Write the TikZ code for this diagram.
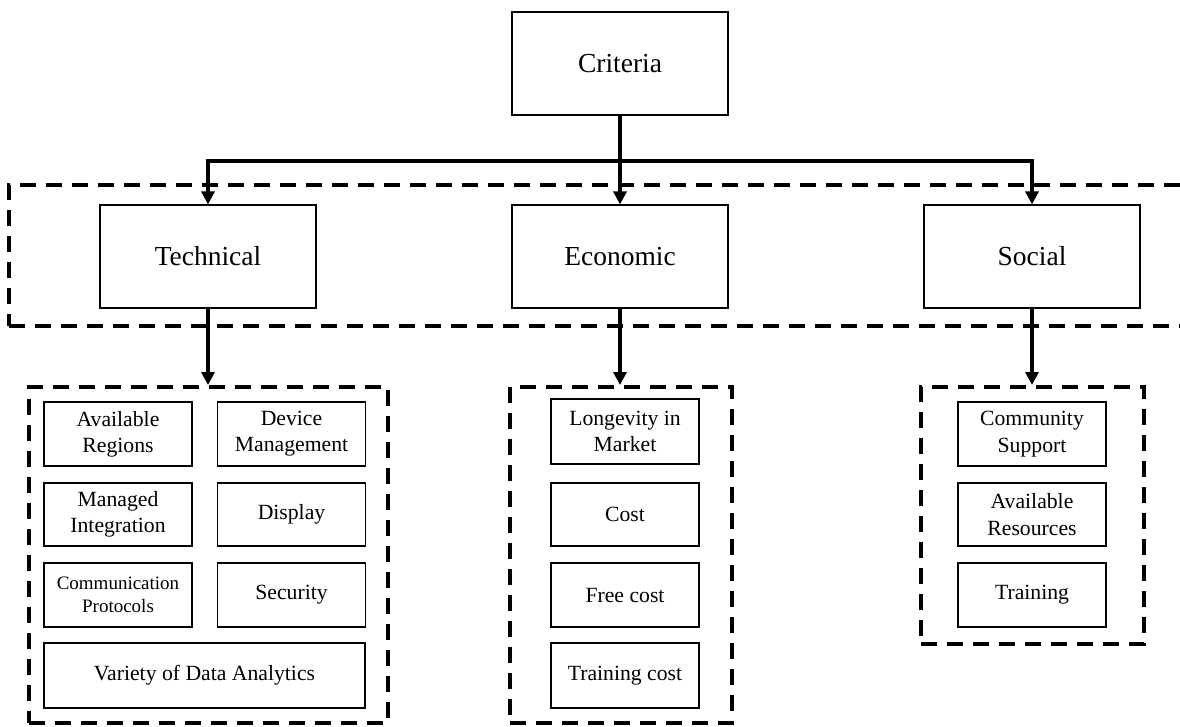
\documentclass[tikz,border=0pt]{standalone}
\usepackage{fontspec}
\setmainfont{Liberation Serif}
\usetikzlibrary{arrows.meta}
\begin{document}
\begin{tikzpicture}[x=1pt,y=-1pt,
  topbox/.style={draw, line width=1.2pt, inner sep=0pt, align=center,
    minimum width=216pt, minimum height=103pt, font=\fontsize{27.5}{33}\selectfont},
  box/.style={draw, line width=1.2pt, inner sep=0pt, align=center,
    minimum width=148pt, font=\fontsize{21.7}{26.3}\selectfont},
  smallbox/.style={box, font=\fontsize{19}{22.5}\selectfont},
  group/.style={draw, line width=4pt, dash pattern=on 16pt off 10pt, inner sep=0pt},
  conn/.style={line width=4pt},
  arr/.style={conn, -{Triangle[length=13pt,width=13pt]}}]
\path[use as bounding box, clip] (0,0) rectangle (1180,727);

% dashed groups
\node[group, minimum width=1191pt, minimum height=141pt] (big) at (604.5,255.5) {};
\node[group, minimum width=359pt, minimum height=336pt] (tgroup) at (208.5,555) {};
\node[group, minimum width=222pt, minimum height=336pt] (egroup) at (621,555) {};
\node[group, minimum width=223pt, minimum height=257pt] (sgroup) at (1032.5,515.5) {};

% main nodes
\node[topbox] (crit) at (620,63.5) {Criteria};
\node[topbox] (tech) at (208,256.5) {Technical};
\node[topbox] (eco) at (620,256.5) {Economic};
\node[topbox] (soc) at (1032,256.5) {Social};

% technical
\node[box, minimum height=64pt] (ar) at (118,434) {Available\\Regions};
\node[box, minimum height=64pt] (dm) at (291.5,434) {Device\\Management};
\node[box, minimum height=63pt] (mi) at (118,514.5) {Managed\\Integration};
\node[box, minimum height=63pt] (disp) at (291.5,514.5) {Display};
\node[smallbox, minimum height=64pt] (cp) at (118,595) {Communication\\Protocols};
\node[box, minimum height=64pt] (sec) at (291.5,595) {Security};
\node[box, minimum width=321pt, minimum height=65pt] (vda) at (204.5,675.5) {Variety of Data Analytics};

% economic
\node[box, minimum height=65pt] (lm) at (625,431.5) {Longevity in\\Market};
\node[box, minimum height=63pt] (cost) at (625,514.5) {Cost};
\node[box, minimum height=64pt] (fc) at (625,595) {Free cost};
\node[box, minimum height=65pt] (tc) at (625,675.5) {Training cost};

% social
\node[box, minimum height=64pt] (cs) at (1032,434) {Community\\Support};
\node[box, minimum height=63pt] (res) at (1032,514.5) {Available\\Resources};
\node[box, minimum height=64pt] (tr) at (1032,595) {Training};

% connectors
\coordinate (bar) at (crit.south |- 0,161);
\draw[conn] (crit.south) -- (bar);
\draw[arr] (bar) -| (tech.north);
\draw[arr] (bar) -| (soc.north);
\draw[arr] (bar) -- (eco.north);
\draw[arr] (tech.south) -- (tgroup.north -| tech.south);
\draw[arr] (eco.south) -- (egroup.north -| eco.south);
\draw[arr] (soc.south) -- (sgroup.north -| soc.south);
\end{tikzpicture}
\end{document}
